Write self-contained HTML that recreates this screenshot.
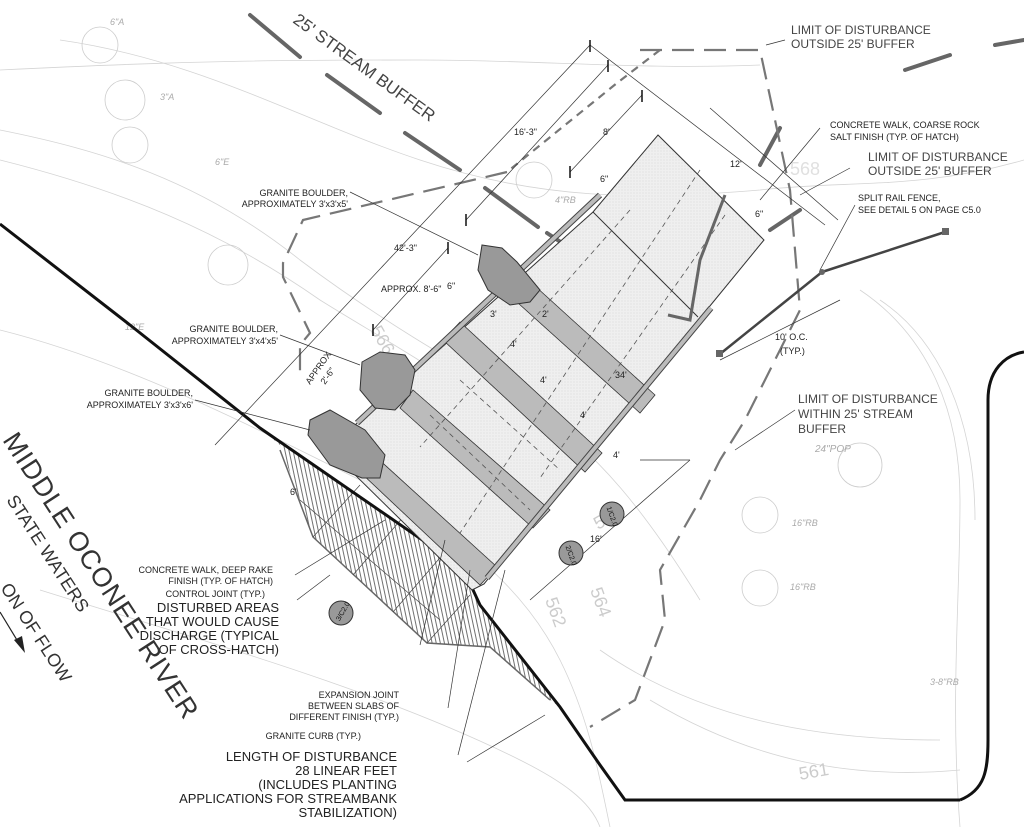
<!DOCTYPE html>
<html><head><meta charset="utf-8"><style>
html,body{margin:0;padding:0;background:#fff;}
svg{display:block;font-family:"Liberation Sans","DejaVu Sans",sans-serif;}
.s{font-size:9px;fill:#222}
.m{font-size:12px;fill:#444}
.l{font-size:13px;fill:#222}
</style></head><body>
<svg width="1024" height="827" viewBox="0 0 1024 827" xmlns="http://www.w3.org/2000/svg">
<defs>
<pattern id="hatch" width="4" height="8" patternUnits="userSpaceOnUse" patternTransform="rotate(-12)">
<line x1="1" y1="0" x2="1" y2="8" stroke="#333" stroke-width="0.7"/></pattern>
<pattern id="dots" width="3" height="3" patternUnits="userSpaceOnUse"><rect width="3" height="3" fill="#efefef"/><circle cx="1" cy="1" r="0.5" fill="#d0d0d0"/></pattern>
</defs>
<rect width="1024" height="827" fill="#fff"/>
<g fill="none" stroke="#d4d4d4" stroke-width="0.8">
<path d="M0,130 C100,150 200,180 300,260 C380,320 450,360 520,400 C600,450 650,520 700,600"/>
<path d="M0,160 C120,190 220,230 320,300 C400,350 480,390 560,470"/>
<path d="M0,70 C200,60 300,60 420,60 C540,60 640,70 760,65"/>
<path d="M60,40 C200,60 300,120 420,160 C540,200 640,200 760,190 C850,180 920,190 1024,160"/>
<path d="M0,330 C120,360 240,420 360,480 C450,530 520,580 560,660 C590,720 600,780 610,827"/>
<path d="M40,590 C200,640 380,690 520,760 C560,780 590,800 600,827"/>
<path d="M860,290 C920,330 960,400 960,500 C960,600 950,700 960,827"/>
<path d="M880,300 C940,340 975,420 975,520"/>
<path d="M650,700 C750,760 850,780 960,770"/>
<path d="M600,650 C700,720 820,740 940,740"/>
</g>
<g fill="none" stroke="#ccc" stroke-width="0.8">
<circle cx="100" cy="45" r="18"/><circle cx="125" cy="100" r="20"/><circle cx="228" cy="265" r="20"/><circle cx="130" cy="145" r="18"/>
<circle cx="860" cy="465" r="22"/><circle cx="760" cy="515" r="18"/><circle cx="760" cy="588" r="18"/><circle cx="534" cy="180" r="18"/>
</g>
<g class="s" style="fill:#aaa;font-style:italic">
<text x="110" y="25">6"A</text><text x="160" y="100">3"A</text><text x="215" y="165">6"E</text><text x="125" y="330">12"E</text>
<text x="555" y="203">4"RB</text><text x="815" y="452" style="font-size:10px">24"POP</text><text x="792" y="526">16"RB</text><text x="790" y="590">16"RB</text><text x="930" y="685">3-8"RB</text>
</g>
<g style="font-size:18px;fill:#ccc">
<text x="800" y="780" transform="rotate(-10 800 780)">561</text>
<text x="590" y="590" transform="rotate(70 590 590)">564</text>
<text x="545" y="600" transform="rotate(70 545 600)">562</text>
<text x="598" y="530" transform="rotate(-30 598 530)">566</text>
<text x="370" y="330" transform="rotate(60 370 330)">566</text>
<text x="790" y="175" style="fill:#e0e0e0">568</text>
</g>
<g stroke="#666" stroke-width="4" stroke-linecap="round">
<line x1="250" y1="15" x2="300" y2="57"/><line x1="327" y1="75" x2="380" y2="113"/><line x1="405" y1="133" x2="460" y2="170"/>
<line x1="485" y1="188" x2="538" y2="227"/><line x1="547" y1="233" x2="645" y2="298"/>
<line x1="995" y1="45" x2="1024" y2="40"/><line x1="905" y1="70" x2="950" y2="55"/>
<line x1="760" y1="165" x2="780" y2="128"/><line x1="770" y1="230" x2="800" y2="210"/>
</g>
<text x="292" y="22" transform="rotate(36 292 22)" style="font-size:17px;fill:#444">25' STREAM BUFFER</text>
<g fill="none" stroke="#777" stroke-width="2.2" stroke-dasharray="22,10">
<path d="M640,50 L760,50 L790,190 L800,310 L745,420 L720,460 L700,500 L660,570 L665,620 L635,700 L590,727"/>
<path d="M507,172 L303,220 L283,263 L283,277 L310,333 L300,345 L300,380"/>
</g>
<path d="M660,50 L617,83 L507,172" fill="none" stroke="#777" stroke-width="2.2" stroke-dasharray="8,6"/>
<polygon points="280,445 313,537 427,643 490,647 550,700 560,707 477,600 467,577 447,557 260,428" fill="url(#hatch)" stroke="none"/>
<polyline points="280,450 313,537 427,643 490,647 550,700" fill="none" stroke="#666" stroke-width="1.5"/>
<g stroke="#444" stroke-width="0.7">
<line x1="313" y1="537" x2="360" y2="485"/><line x1="353" y1="575" x2="405" y2="515"/><line x1="393" y1="612" x2="445" y2="552"/>
<line x1="427" y1="643" x2="470" y2="595"/><line x1="300" y1="500" x2="440" y2="620"/>
</g>
<polyline points="0,224 130,325 260,428 447,557 467,577 480,605 560,707 600,765 625,800 960,800" fill="none" stroke="#111" stroke-width="3"/>
<path d="M960,800 C985,790 988,770 988,740 L988,400 C988,370 1005,355 1024,352" fill="none" stroke="#111" stroke-width="3"/>
<polygon points="658,135 764,240 705,312 484,584 472,590 345,465 355,425 593,212" fill="url(#dots)" stroke="#333" stroke-width="1"/>
<line x1="593" y1="212" x2="698" y2="317" stroke="#333" stroke-width="1"/>
<g fill="#bbb" stroke="#333" stroke-width="0.8">
<polygon points="535,286 655,395 640,413 518,303"/>
<polygon points="460,322 602,453 585,472 443,340"/>
<polygon points="413,390 550,510 533,528 400,408"/>
<polygon points="375,456 497,567 480,585 360,472"/>
</g>
<g stroke="#555" stroke-width="0.8" stroke-dasharray="5,4" fill="none">
<line x1="700" y1="170" x2="460" y2="533"/><line x1="725" y1="215" x2="540" y2="478"/><line x1="630" y1="210" x2="420" y2="447"/>
<line x1="430" y1="415" x2="530" y2="510"/><line x1="460" y1="380" x2="560" y2="470"/>
</g>
<line x1="600" y1="195" x2="357" y2="423" stroke="#444" stroke-width="6"/>
<line x1="600" y1="195" x2="357" y2="423" stroke="#bbb" stroke-width="4"/>
<line x1="711" y1="308" x2="487" y2="578" stroke="#444" stroke-width="6"/>
<line x1="711" y1="308" x2="487" y2="578" stroke="#bbb" stroke-width="4"/>
<path d="M725,195 L700,260 L690,320 L668,315" fill="none" stroke="#666" stroke-width="3"/>
<g fill="#999" stroke="#333" stroke-width="1">
<polygon points="482,245 502,248 517,262 540,290 530,302 510,305 488,290 478,270"/>
<polygon points="362,362 380,352 405,355 415,370 410,395 395,410 375,408 360,390"/>
<polygon points="310,420 330,410 365,430 385,455 380,478 362,478 330,465 308,435"/>
</g>
<g stroke="#333" stroke-width="0.7" fill="none">
<line x1="590" y1="45" x2="215" y2="445"/><line x1="608" y1="65" x2="466" y2="220"/><line x1="642" y1="95" x2="570" y2="172"/>
<line x1="448" y1="248" x2="373" y2="330"/>
<line x1="590" y1="45" x2="825" y2="225"/><line x1="710" y1="108" x2="838" y2="220"/>
<line x1="640" y1="460" x2="690" y2="460"/>
<line x1="530" y1="600" x2="690" y2="460"/><line x1="720" y1="360" x2="840" y2="300"/>
<line x1="420" y1="645" x2="445" y2="540"/><line x1="448" y1="708" x2="470" y2="570"/>
<line x1="458" y1="755" x2="505" y2="570"/><line x1="467" y1="762" x2="545" y2="715"/>
<line x1="350" y1="192" x2="478" y2="255"/><line x1="280" y1="335" x2="360" y2="365"/><line x1="195" y1="400" x2="310" y2="430"/>
<line x1="295" y1="575" x2="385" y2="520"/><line x1="297" y1="600" x2="330" y2="575"/><line x1="340" y1="620" x2="350" y2="605"/>
<line x1="820" y1="128" x2="760" y2="200"/><line x1="850" y1="168" x2="800" y2="195"/><line x1="855" y1="205" x2="820" y2="270"/>
<line x1="795" y1="410" x2="735" y2="450"/><line x1="766" y1="45" x2="785" y2="40"/>
</g>
<g stroke="#111" stroke-width="1.5">
<line x1="590" y1="40" x2="590" y2="52"/><line x1="608" y1="60" x2="608" y2="72"/><line x1="642" y1="90" x2="642" y2="102"/>
<line x1="466" y1="214" x2="466" y2="226"/><line x1="570" y1="166" x2="570" y2="178"/><line x1="448" y1="242" x2="448" y2="254"/><line x1="373" y1="324" x2="373" y2="336"/>
</g>
<line x1="720" y1="354" x2="822" y2="272" stroke="#444" stroke-width="2.5"/>
<line x1="822" y1="272" x2="945" y2="232" stroke="#444" stroke-width="2.5"/>
<rect x="716" y="350" width="7" height="7" fill="#666"/><rect x="942" y="228" width="7" height="7" fill="#666"/><circle cx="822" cy="272" r="3" fill="#666"/>
<g fill="#999" stroke="#333" stroke-width="1">
<circle cx="612" cy="514" r="12"/><circle cx="571" cy="553" r="12"/><circle cx="341" cy="613" r="12"/>
</g>
<g style="font-size:7px;fill:#111">
<text x="604" y="517" transform="rotate(70 612 514)">1/C2.0</text>
<text x="563" y="556" transform="rotate(70 571 553)">2/C2.0</text>
<text x="333" y="616" transform="rotate(-60 341 613)">3/C2.0</text>
</g>
<g class="s">
<text x="514" y="135">16'-3"</text><text x="603" y="135">8'</text><text x="600" y="182">6"</text><text x="394" y="251">42'-3"</text>
<text x="381" y="292">APPROX. 8'-6"</text><text x="447" y="289">6"</text><text x="490" y="317">3'</text><text x="542" y="317">2'</text>
<text x="510" y="347">4'</text><text x="540" y="383">4'</text><text x="580" y="418">4'</text><text x="615" y="378">34'</text><text x="613" y="458">4'</text>
<text x="590" y="542">16'</text><text x="730" y="167">12'</text><text x="755" y="217">6"</text><text x="290" y="495">6'</text>
<text x="310" y="385" transform="rotate(-55 310 385)">APPROX</text><text x="325" y="385" transform="rotate(-55 325 385)">2'-6"</text>
<text x="775" y="340">10' O.C.</text><text x="780" y="354">(TYP.)</text>
</g>
<g class="m"><text x="791" y="34">LIMIT OF DISTURBANCE</text><text x="791" y="48">OUTSIDE 25' BUFFER</text>
<text x="868" y="161">LIMIT OF DISTURBANCE</text><text x="868" y="175">OUTSIDE 25' BUFFER</text>
<text x="798" y="403">LIMIT OF DISTURBANCE</text><text x="798" y="418">WITHIN 25' STREAM</text><text x="798" y="433">BUFFER</text></g>
<g class="s"><text x="830" y="128">CONCRETE WALK, COARSE ROCK</text><text x="830" y="140">SALT FINISH (TYP. OF HATCH)</text>
<text x="858" y="201">SPLIT RAIL FENCE,</text><text x="858" y="213">SEE DETAIL 5 ON PAGE C5.0</text></g>
<g class="s" text-anchor="end">
<text x="348" y="196">GRANITE BOULDER,</text><text x="348" y="207">APPROXIMATELY 3'x3'x5'</text>
<text x="278" y="332">GRANITE BOULDER,</text><text x="278" y="344">APPROXIMATELY 3'x4'x5'</text>
<text x="193" y="396">GRANITE BOULDER,</text><text x="193" y="408">APPROXIMATELY 3'x3'x6'</text>
<text x="273" y="573">CONCRETE WALK, DEEP RAKE</text><text x="273" y="584">FINISH (TYP. OF HATCH)</text>
<text x="265" y="597">CONTROL JOINT (TYP.)</text>
<text x="399" y="698">EXPANSION JOINT</text><text x="399" y="709">BETWEEN SLABS OF</text><text x="399" y="720">DIFFERENT FINISH (TYP.)</text>
<text x="361" y="739">GRANITE CURB (TYP.)</text>
</g>
<g class="l" text-anchor="end">
<text x="279" y="612">DISTURBED AREAS</text><text x="279" y="626">THAT WOULD CAUSE</text><text x="279" y="640">DISCHARGE  (TYPICAL</text><text x="279" y="654">OF CROSS-HATCH)</text>
<text x="397" y="761">LENGTH OF DISTURBANCE</text><text x="397" y="775">28 LINEAR FEET</text><text x="397" y="789">(INCLUDES PLANTING</text><text x="397" y="803">APPLICATIONS FOR STREAMBANK</text><text x="397" y="817">STABILIZATION)</text>
</g>
<g style="fill:#333">
<text x="2" y="440" transform="rotate(57 2 440)" style="font-size:27px;letter-spacing:1px">MIDDLE OCONEE RIVER</text>
<text x="6" y="500" transform="rotate(57 6 500)" style="font-size:18px">STATE WATERS</text>
<text x="0" y="588" transform="rotate(57 0 588)" style="font-size:18px">ON  OF FLOW</text>
</g>
<line x1="0" y1="612" x2="20" y2="645" stroke="#222" stroke-width="1.2"/>
<polygon points="25,653 14,640 22,636" fill="#222"/>
</svg>
</body></html>
